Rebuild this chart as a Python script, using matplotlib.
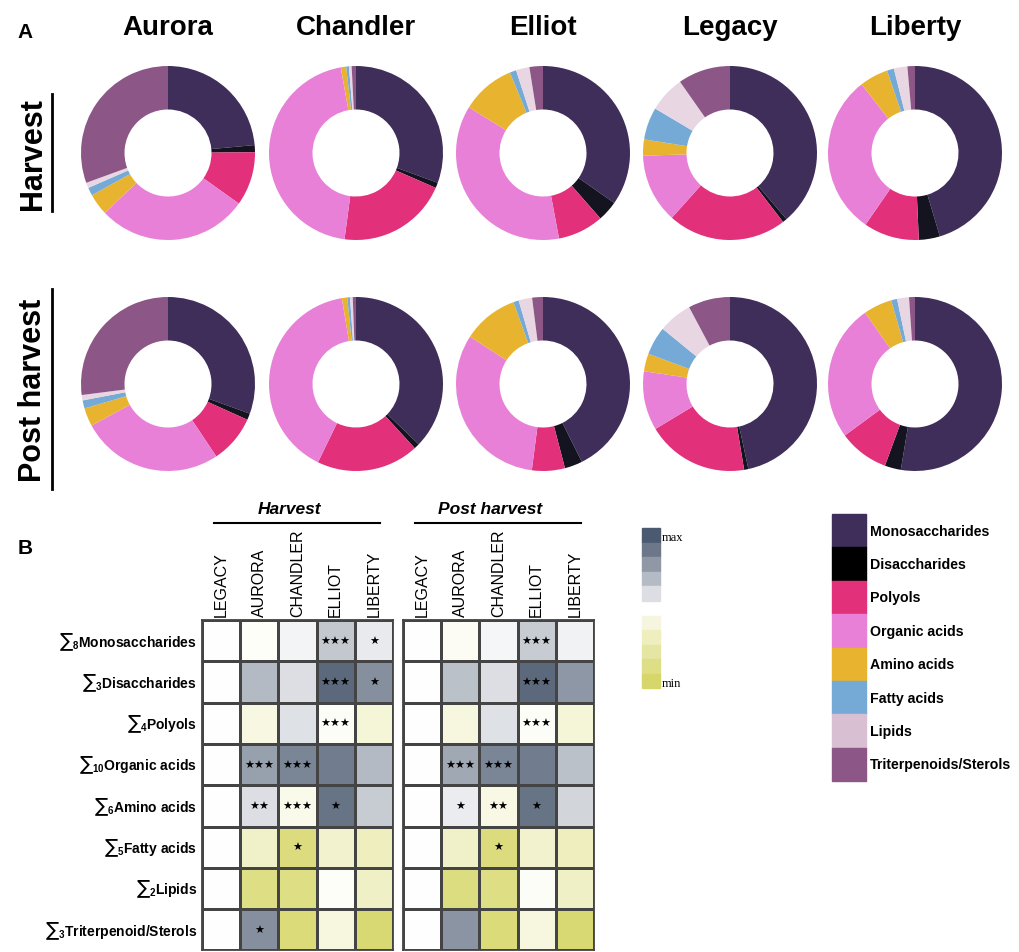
import numpy as np
import matplotlib
matplotlib.use("Agg")
import matplotlib.pyplot as plt
from matplotlib.colors import LinearSegmentedColormap
from matplotlib.patches import Rectangle

plt.rcParams['font.family'] = ['Liberation Sans', 'DejaVu Sans']
plt.rcParams['mathtext.default'] = 'regular'

# ---- data ----
cultivars = ['Aurora', 'Chandler', 'Elliot', 'Legacy', 'Liberty']
classes = ['Monosaccharides', 'Disaccharides', 'Polyols', 'Organic acids',
           'Amino acids', 'Fatty acids', 'Lipids', 'Triterpenoids/Sterols']
class_colors = ['#3f2d5a', '#141320', '#e2307a', '#e880d8',
                '#e8b430', '#76aad6', '#e8d6e2', '#8c5786']

# composition (%) per cultivar, order of classes
harvest_pct = {
    'Aurora':   [23.5, 1.3, 10.0, 28.0, 4.0, 1.5, 1.0, 30.5],
    'Chandler': [30.5, 1.0, 20.5, 45.0, 1.0, 0.5, 0.5, 0.8],
    'Elliot':   [34.7, 3.8, 8.5, 36.7, 10.0, 1.2, 2.5, 2.5],
    'Legacy':   [38.6, 0.8, 22.0, 12.8, 3.0, 6.0, 6.7, 9.7],
    'Liberty':  [45.3, 3.9, 10.3, 29.8, 5.3, 1.3, 2.5, 1.4],
}
post_pct = {
    'Aurora':   [30.5, 1.2, 8.9, 26.4, 3.4, 1.5, 1.0, 27.0],
    'Chandler': [37.2, 1.0, 19.0, 40.2, 1.0, 0.5, 0.5, 0.6],
    'Elliot':   [42.5, 3.3, 6.1, 32.0, 10.3, 1.0, 2.5, 2.0],
    'Legacy':   [46.7, 0.8, 19.0, 11.0, 3.3, 5.3, 6.3, 7.8],
    'Liberty':  [52.5, 3.0, 9.3, 25.3, 5.3, 1.1, 2.2, 1.1],
}

# heatmap (relative to Legacy, -1 = min, +1 = max)
hm_cols = ['LEGACY', 'AURORA', 'CHANDLER', 'ELLIOT', 'LIBERTY']
hm_rows = ['∑$_8$Monosaccharides', '∑$_3$Disaccharides', '∑$_4$Polyols',
           '∑$_{10}$Organic acids', '∑$_6$Amino acids', '∑$_5$Fatty acids',
           '∑$_2$Lipids', '∑$_3$Triterpenoid/Sterols']
hm_harvest = np.array([
    [0, -0.04, 0.08, 0.40, 0.15],
    [0, 0.50, 0.24, 0.92, 0.72],
    [0, -0.22, 0.22, -0.06, -0.30],
    [0, 0.64, 0.78, 0.82, 0.50],
    [0, 0.24, -0.16, 0.86, 0.38],
    [0, -0.42, -0.88, -0.38, -0.50],
    [0, -0.84, -0.84, -0.04, -0.44],
    [0, 0.72, -0.90, -0.24, -0.94],
])
hm_post = np.array([
    [0, -0.08, 0.07, 0.38, 0.10],
    [0, 0.46, 0.24, 0.92, 0.68],
    [0, -0.24, 0.22, -0.05, -0.30],
    [0, 0.60, 0.78, 0.82, 0.46],
    [0, 0.14, -0.20, 0.86, 0.30],
    [0, -0.42, -0.88, -0.38, -0.50],
    [0, -0.86, -0.84, -0.05, -0.44],
    [0, 0.70, -0.90, -0.24, -0.94],
])
# significance level: number of stars
stars_harvest = [
    [0, 0, 0, 3, 1],
    [0, 0, 0, 3, 1],
    [0, 0, 0, 3, 0],
    [0, 3, 3, 0, 0],
    [0, 2, 3, 1, 0],
    [0, 0, 1, 0, 0],
    [0, 0, 0, 0, 0],
    [0, 1, 0, 0, 0],
]
stars_post = [
    [0, 0, 0, 3, 0],
    [0, 0, 0, 3, 0],
    [0, 0, 0, 3, 0],
    [0, 3, 3, 0, 0],
    [0, 1, 2, 1, 0],
    [0, 0, 1, 0, 0],
    [0, 0, 0, 0, 0],
    [0, 0, 0, 0, 0],
]
blue_steps = ['#4b5a70', '#6c7789', '#9098a5', '#b5bbc4', '#dcdee3']
yellow_steps = ['#f6f6e0', '#eeeebf', '#e6e6a4', '#dede86', '#d6d66a']

W, H = 1019, 953
fig = plt.figure(figsize=(W / 100, H / 100), dpi=100)


def ax_px(x0, y0, w, h):
    return fig.add_axes([x0 / W, 1 - (y0 + h) / H, w / W, h / H])


def txt(x, y, s, **kw):
    return fig.text(x / W, 1 - y / H, s, **kw)


def line_px(x0, y0, x1, y1, **kw):
    fig.add_artist(plt.Line2D([x0 / W, x1 / W], [1 - y0 / H, 1 - y1 / H],
                              transform=fig.transFigure, **kw))


# ---- A: donuts ----
txt(25, 33, 'A', fontsize=15, fontweight='bold', va='center', ha='center')
col_x = [168, 356, 543, 730, 915]
row_y = [154, 385]
R = 87
for name, cx in zip(cultivars, col_x):
    txt(cx, 28, name, fontsize=20, fontweight='bold', ha='center', va='center')
    for data, cy in zip([harvest_pct, post_pct], row_y):
        ax = ax_px(cx - R, cy - R, 2 * R, 2 * R)
        ax.pie(data[name], colors=class_colors, startangle=90, counterclock=False,
               radius=1, wedgeprops=dict(width=0.5, edgecolor='none'))
        ax.set_xlim(-1, 1)
        ax.set_ylim(-1, 1)
        ax.set_aspect('equal')
        ax.axis('off')

txt(33, 154, 'Harvest', fontsize=22, fontweight='bold', rotation=90,
    ha='center', va='center')
line_px(52, 95, 52, 212, color='black', lw=2)
txt(33, 390, 'Post harvest', fontsize=22, fontweight='bold', rotation=90,
    ha='center', va='center')
line_px(52, 290, 52, 490, color='black', lw=2)

# ---- B: heatmaps ----
txt(25, 548, 'B', fontsize=15, fontweight='bold', va='center', ha='center')
cmap = LinearSegmentedColormap.from_list(
    'ym', ['#d6d66a', '#eeeebf', '#ffffff', '#b5bbc4', '#4b5a70'])
cell_w, cell_h = 38.2, 41.3
top = 621
blocks = [(202, hm_harvest, stars_harvest, 'Harvest'),
          (403, hm_post, stars_post, 'Post harvest')]
for x0, vals, stars, title in blocks:
    ax = ax_px(x0, top, cell_w * 5, cell_h * 8)
    ax.pcolormesh(vals, cmap=cmap, vmin=-1, vmax=1, edgecolors='#444444',
                  linewidth=1)
    ax.set_xlim(0, 5)
    ax.set_ylim(8, 0)
    for i in range(8):
        for j in range(5):
            if stars[i][j]:
                ax.text(j + 0.5, i + 0.5, '★' * stars[i][j], ha='center',
                        va='center', fontsize=8, family='DejaVu Sans')
    ax.set_xticks([])
    ax.set_yticks([])
    for s in ax.spines.values():
        s.set_linewidth(1.3)
        s.set_color('#444444')
    for j, c in enumerate(hm_cols):
        txt(x0 + cell_w * (j + 0.5), 617, c, rotation=90, ha='center',
            va='bottom', fontsize=11.5)
    xc = x0 + cell_w * 2.5
    txt(xc - 8, 510, title, fontsize=12.5, fontweight='bold', style='italic',
        ha='center', va='center')
    line_px(x0 + 12, 524, x0 + 178, 524, color='black', lw=1.5)

for i, r in enumerate(hm_rows):
    txt(197, top + cell_h * (i + 0.5), r, ha='right', va='center',
        fontsize=10, fontweight='bold')

# ---- color scale legend ----
for k, c in enumerate(blue_steps):
    fig.add_artist(Rectangle((642 / W, 1 - (529 + 14.6 * (k + 1)) / H),
                             18 / W, 14.6 / H, color=c,
                             transform=fig.transFigure))
for k, c in enumerate(yellow_steps):
    fig.add_artist(Rectangle((642 / W, 1 - (617 + 14.4 * (k + 1)) / H),
                             18 / W, 14.4 / H, color=c,
                             transform=fig.transFigure))
txt(662, 538, 'max', fontsize=9, family='Liberation Serif', va='center')
txt(662, 684, 'min', fontsize=9, family='Liberation Serif', va='center')

# ---- class legend ----
leg_colors = list(class_colors)
leg_colors[1] = '#000000'
leg_colors[6] = '#d8bfd2'
box_h = 33.4
for k, (c, lab) in enumerate(zip(leg_colors, classes)):
    y0 = 515 + box_h * k
    fig.add_artist(Rectangle((832 / W, 1 - (y0 + box_h) / H), 34 / W, box_h / H,
                             color=c, transform=fig.transFigure))
    txt(870, y0 + box_h / 2, lab, fontsize=10.2, fontweight='bold', va='center')

fig.savefig('out.png', dpi=100)
